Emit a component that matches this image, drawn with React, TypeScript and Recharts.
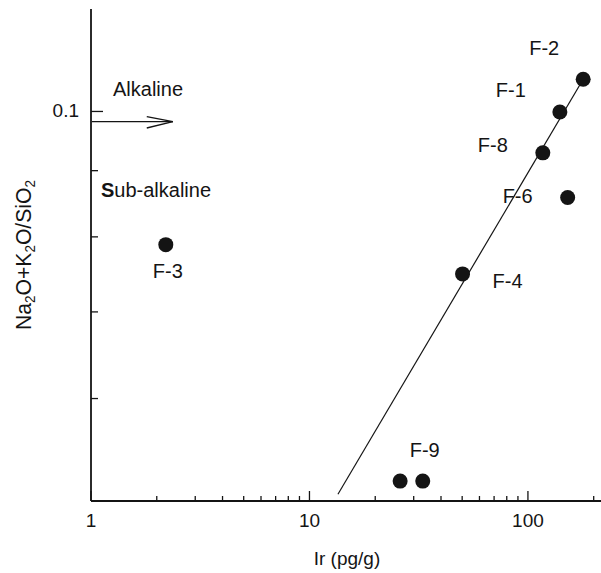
import React from "react";
import {
    ScatterChart,
    Scatter,
    XAxis,
    YAxis,
    ReferenceLine,
    ReferenceDot,
} from "recharts";

// sample names, Ir (pg/g) and (Na2O+K2O)/SiO2
const samples = ["F-2", "F-1", "F-8", "F-6", "F-4", "F-3", "F-9", ""];
const irValues = [179, 140, 117, 152, 50.2, 2.2, 33, 26];
const ratioValues = [0.1059, 0.0999, 0.0929, 0.0858, 0.0749, 0.0789, 0.0518, 0.0518];

const xTicks = [1, 2, 3, 4, 5, 6, 7, 8, 9, 10, 20, 30, 40, 50, 60, 70, 80, 90, 100, 200];
const xTickLabels: Record<number, string> = { 1: "1", 10: "10", 100: "100" };
const yTicks = [0.06, 0.07, 0.08, 0.09, 0.1];
const yTickLabels: Record<number, string> = { 0.1: "0.1" };

const trendLine = [
    { x: 13.5, y: 0.0506 },
    { x: 179, y: 0.1059 },
];

// label offsets from the dot, px
const labelOffsets: Record<string, [number, number]> = {
    "F-2": [-39, -24],
    "F-1": [-49, -15],
    "F-8": [-50, -1],
    "F-6": [-50, 5],
    "F-4": [45, 14],
    "F-3": [2, 33],
    "F-9": [2, -24],
};

const data = samples.map((name, i) => ({
    name,
    x: irValues[i],
    y: ratioValues[i],
}));

const FONT = "'Liberation Sans', Arial, sans-serif";
const INK = "#141414";

const BottomTick = (props: any) => {
    const { x, y, payload } = props;
    const label = xTickLabels[payload.value];
    const len = label ? 10 : 5;
    return (
        <g>
            <line x1={x} x2={x} y1={y} y2={y - len} stroke={INK} strokeWidth={1.3} />
            {label && (
                <text x={x} y={y + 26} textAnchor="middle" fontSize={19} fontFamily={FONT} fill={INK}>
                    {label}
                </text>
            )}
        </g>
    );
};

const LeftTick = (props: any) => {
    const { x, y, payload } = props;
    const label = yTickLabels[payload.value];
    const len = label ? 12 : 7;
    return (
        <g>
            <line x1={x} x2={x + len} y1={y} y2={y} stroke={INK} strokeWidth={1.3} />
            {label && (
                <text x={x - 12} y={y + 6} textAnchor="end" fontSize={19} fontFamily={FONT} fill={INK}>
                    {label}
                </text>
            )}
        </g>
    );
};

const RightTick = (props: any) => {
    const { x, y, payload } = props;
    const len = yTickLabels[payload.value] ? 8 : 3;
    return <line x1={x} x2={x - len} y1={y} y2={y} stroke={INK} strokeWidth={1.3} />;
};

const Dot = (props: any) => {
    const { cx, cy, payload } = props;
    const off = labelOffsets[payload.name];
    return (
        <g>
            <circle cx={cx} cy={cy} r={7.5} fill={INK} />
            {off && (
                <text
                    x={cx + off[0]}
                    y={cy + off[1]}
                    textAnchor="middle"
                    fontSize={20}
                    fontFamily={FONT}
                    fill={INK}
                >
                    {payload.name}
                </text>
            )}
        </g>
    );
};

const XLabel = () => (
    <text x={347} y={565} textAnchor="middle" fontSize={19} fontFamily={FONT} fill={INK}>
        Ir (pg/g)
    </text>
);

const YAxisTitle = () => (
    <g transform="translate(31 255) rotate(-90)">
        <text
            x={0}
            y={0}
            textAnchor="middle"
            fontSize={22}
            fontFamily={FONT}
            fill={INK}
            textLength={150}
            lengthAdjust="spacingAndGlyphs"
        >
            Na
            <tspan fontSize={14} dy={4}>2</tspan>
            <tspan dy={-4}>O+K</tspan>
            <tspan fontSize={14} dy={4}>2</tspan>
            <tspan dy={-4}>O/SiO</tspan>
            <tspan fontSize={14} dy={4}>2</tspan>
        </text>
    </g>
);

const textShape = (content: React.ReactNode) => (p: any) => (
    <text x={p.cx} y={p.cy} fontSize={20} fontFamily={FONT} fill={INK}>
        {content}
    </text>
);

const axisStyle = { stroke: INK, strokeWidth: 1.8 };

export default function App() {
    return (
        <div style={{ position: "absolute", left: 0, top: 0, width: 601, height: 573, background: "#fff" }}>
            <ScatterChart width={601} height={573} margin={{ top: 9, right: 0, bottom: 0, left: 0 }}>
                <XAxis
                    xAxisId="b"
                    dataKey="x"
                    type="number"
                    scale="log"
                    domain={[1, 216]}
                    allowDataOverflow
                    ticks={xTicks}
                    interval={0}
                    height={72}
                    tickSize={0}
                    tickMargin={0}
                    tickLine={false}
                    tick={<BottomTick />}
                    axisLine={axisStyle}
                    label={<XLabel />}
                />
                <XAxis
                    xAxisId="t"
                    orientation="top"
                    type="number"
                    scale="log"
                    domain={[1, 216]}
                    height={0}
                    tick={false}
                    tickLine={false}
                    axisLine={axisStyle}
                />
                <YAxis
                    yAxisId="l"
                    dataKey="y"
                    type="number"
                    scale="log"
                    domain={[0.05, 0.12]}
                    allowDataOverflow
                    ticks={yTicks}
                    interval={0}
                    width={91}
                    tickSize={0}
                    tickMargin={0}
                    tickLine={false}
                    tick={<LeftTick />}
                    axisLine={axisStyle}
                    label={<YAxisTitle />}
                />
                <YAxis
                    yAxisId="r"
                    orientation="right"
                    type="number"
                    scale="log"
                    domain={[0.05, 0.12]}
                    allowDataOverflow
                    ticks={yTicks}
                    interval={0}
                    width={0}
                    tickSize={0}
                    tickMargin={0}
                    tickLine={false}
                    tick={<RightTick />}
                    axisLine={false}
                />
                <ReferenceLine xAxisId="b" yAxisId="l" segment={trendLine} stroke={INK} strokeWidth={1.2} />
                <ReferenceLine
                    xAxisId="b"
                    yAxisId="l"
                    segment={[{ x: 1.01, y: 0.0982 }, { x: 2.37, y: 0.0982 }]}
                    stroke={INK}
                    strokeWidth={1.3}
                />
                <ReferenceLine
                    xAxisId="b"
                    yAxisId="l"
                    segment={[{ x: 1.8, y: 0.0991 }, { x: 2.37, y: 0.0982 }]}
                    stroke={INK}
                    strokeWidth={1.3}
                />
                <ReferenceLine
                    xAxisId="b"
                    yAxisId="l"
                    segment={[{ x: 1.8, y: 0.0971 }, { x: 2.37, y: 0.0982 }]}
                    stroke={INK}
                    strokeWidth={1.3}
                />
                <ReferenceDot
                    xAxisId="b"
                    yAxisId="l"
                    x={1.261}
                    y={0.1027}
                    r={0}
                    shape={textShape("Alkaline")}
                />
                <ReferenceDot
                    xAxisId="b"
                    yAxisId="l"
                    x={1.111}
                    y={0.0859}
                    r={0}
                    shape={textShape(
                        <>
                            <tspan fontWeight="bold">S</tspan>ub-alkaline
                        </>
                    )}
                />
                <Scatter
                    xAxisId="b"
                    yAxisId="l"
                    data={data}
                    shape={<Dot />}
                    isAnimationActive={false}
                />
            </ScatterChart>
        </div>
    );
}
